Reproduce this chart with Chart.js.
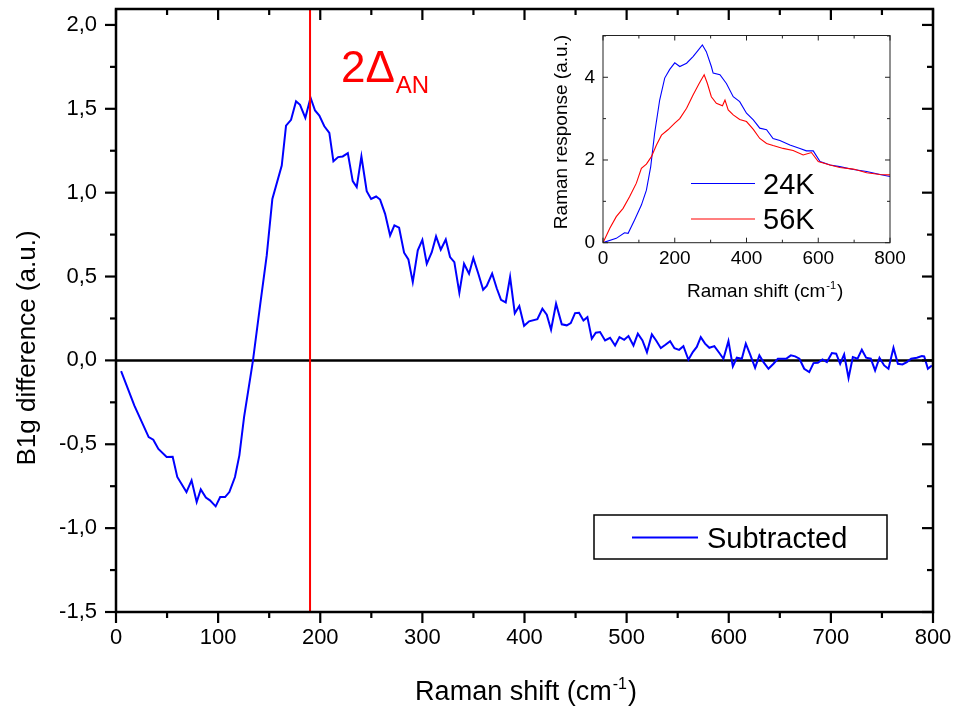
<!DOCTYPE html>
<html>
<head>
<meta charset="utf-8">
<script src="https://cdn.jsdelivr.net/npm/chart.js@4.4.0/dist/chart.umd.min.js"></script>
<style>
  body { margin: 0; background: #fff; }
  #wrap { position: relative; width: 954px; height: 711px; }
  #main { position: absolute; left: 0; top: 0; }
  #inset { position: absolute; left: 540px; top: 20px; }
</style>
</head>
<body>
<div id="wrap">
  <canvas id="main" width="954" height="711"></canvas>
  <canvas id="inset" width="380" height="290"></canvas>
</div>
<script>
const FONT = '"Liberation Sans", Arial, sans-serif';

// main panel: subtracted B1g spectrum
const shiftX = [5, 18, 32, 36.5, 41.5, 49.6, 55.5, 60, 69, 74, 79, 83, 88, 92, 97.6, 102, 106.8, 111, 116.5, 120.8,
  125.4, 134, 141, 147.6, 153.1, 162.3, 166.5, 171.4, 176.3, 180.2, 185.4, 190.5, 194.9, 199.1, 204, 208.9, 212.9,
  217.5, 222, 227, 231.8, 235.7, 240.3, 245.5, 249.8, 254.7, 258.6, 263.5, 268.4, 272.6, 277.2, 282.1, 286.3, 290.6,
  295.5, 300, 304.3, 309.2, 313.4, 318, 322.9, 327.1, 331.3, 336.2, 340.8, 345.7, 349.9, 354.8, 359.5, 363, 368.3,
  372.8, 377, 381.6, 385.9, 390.5, 394.9, 399.6, 404.5, 412.6, 417.5, 421.8, 426, 430.9, 436.5, 441.4, 445.3, 449.5,
  453.4, 457.7, 461.6, 465.9, 469.8, 474, 478.9, 483.8, 488.7, 493, 497.6, 501.8, 506.7, 511, 515.5, 519.9, 524.7,
  528.9, 533.5, 538, 542.6, 546.8, 551.4, 555.6, 560.5, 564.8, 568.7, 572.6, 576.8, 581, 585.9, 590.8, 594.8, 599.7,
  604, 607.9, 612.8, 616.7, 620.9, 625.8, 630, 634, 638.9, 643.8, 648.1, 652, 656.2, 660.8, 665, 669.2, 673.9, 678.8,
  683, 687.3, 691.8, 696.1, 701, 705.2, 709.1, 713, 717.3, 721.5, 726.1, 730.3, 734.5, 739.1, 743.3, 747.6, 752.2,
  756.4, 761.3, 765.6, 770.1, 774.4, 778.6, 784.2, 789.1, 791.4, 795, 798.9];
const subtracted = [-0.064, -0.27, -0.457, -0.473, -0.528, -0.576, -0.575, -0.695, -0.785, -0.715, -0.844, -0.769,
  -0.818, -0.834, -0.870, -0.815, -0.815, -0.785, -0.695, -0.566, -0.338, -0.006, 0.324, 0.626, 0.963, 1.162, 1.40,
  1.434, 1.545, 1.524, 1.446, 1.566, 1.49, 1.46, 1.396, 1.357, 1.187, 1.212, 1.216, 1.236, 1.069, 1.033, 1.216, 1.009,
  0.963, 0.977, 0.959, 0.874, 0.745, 0.805, 0.791, 0.642, 0.602, 0.467, 0.656, 0.719, 0.576, 0.645, 0.739, 0.66,
  0.721, 0.616, 0.586, 0.403, 0.576, 0.517, 0.61, 0.517, 0.421, 0.444, 0.518, 0.43, 0.361, 0.346, 0.497, 0.281,
  0.324, 0.206, 0.233, 0.246, 0.308, 0.272, 0.183, 0.338, 0.215, 0.209, 0.222, 0.282, 0.284, 0.238, 0.258, 0.129,
  0.165, 0.169, 0.119, 0.135, 0.089, 0.139, 0.123, 0.145, 0.089, 0.159, 0.119, 0.049, 0.155, 0.119, 0.073, 0.093,
  0.115, 0.073, 0.063, 0.085, 0.004, 0.05, 0.08, 0.139, 0.1, 0.075, 0.085, 0.044, 0.01, 0.115, -0.036, 0.016, 0.01,
  0.1, 0.036, -0.044, 0.03, -0.01, -0.05, -0.02, 0.01, 0.01, 0.01, 0.03, 0.024, 0.01, -0.05, -0.07, -0.016, -0.014,
  0.006, -0.01, 0.044, 0.04, -0.02, 0.036, -0.105, 0.02, 0.01, 0.064, 0.016, 0.01, -0.06, 0.016, -0.03, -0.05, 0.075,
  -0.02, -0.024, -0.01, 0.01, 0.016, 0.026, 0.024, -0.05, -0.03];
const gapMarker = 190;
const mainXTicks = [0, 100, 200, 300, 400, 500, 600, 700, 800];
const mainYTicks = [-1.5, -1.0, -0.5, 0.0, 0.5, 1.0, 1.5, 2.0];

// inset: raw spectra
const x24 = [0, 37, 60, 70, 88, 107, 121, 133, 144, 158, 172, 186, 200, 214, 233, 251, 265, 277, 288, 302, 307, 326,
  344, 363, 381, 400, 419, 437, 456, 474, 493, 521, 549, 567, 586, 605, 633, 660, 698, 735, 772, 800];
const y24 = [0, 0.105, 0.24, 0.226, 0.55, 0.91, 1.27, 1.84, 2.65, 3.45, 3.98, 4.19, 4.35, 4.26, 4.34, 4.5, 4.65, 4.78,
  4.62, 4.26, 4.1, 4.06, 3.85, 3.53, 3.41, 3.13, 2.97, 2.77, 2.73, 2.52, 2.47, 2.36, 2.28, 2.22, 2.22, 1.96, 1.88,
  1.84, 1.77, 1.72, 1.65, 1.6];
const x56 = [0, 19, 37, 56, 74, 93, 107, 121, 135, 149, 163, 181, 200, 214, 233, 251, 268, 282, 291, 302, 316, 333,
  340, 349, 363, 381, 400, 419, 437, 456, 474, 502, 530, 558, 581, 600, 633, 660, 698, 735, 772, 800];
const y56 = [0, 0.35, 0.63, 0.83, 1.11, 1.44, 1.8, 1.9, 2.08, 2.36, 2.6, 2.73, 2.89, 3.0, 3.25, 3.57, 3.85, 4.06,
  3.85, 3.53, 3.37, 3.31, 3.45, 3.21, 3.09, 2.98, 2.93, 2.74, 2.52, 2.4, 2.35, 2.28, 2.23, 2.12, 2.18, 1.96, 1.88,
  1.82, 1.78, 1.69, 1.65, 1.64];
const insetXTicks = [0, 200, 400, 600, 800];
const insetYTicks = [0, 2, 4];

const pts = (xs, ys) => xs.map((x, i) => ({ x: x, y: ys[i] }));

// keep the label overflow from shrinking the plot area
const fixX = h => s => { s.height = h; s.paddingLeft = 0; s.paddingRight = 0; };
const fixY = w => s => { s.width = w; s.paddingTop = 0; s.paddingBottom = 0; };

// frame with ticks on all four sides
function framePlugin(o) {
  return {
    id: 'frame',
    afterDraw(chart) {
      const { ctx, chartArea: a, scales: { x, y } } = chart;
      ctx.save();
      ctx.strokeStyle = o.color;
      ctx.lineWidth = o.width;
      ctx.strokeRect(a.left, a.top, a.right - a.left, a.bottom - a.top);
      ctx.lineWidth = o.tickWidth;
      const seg = (x1, y1, x2, y2) => { ctx.beginPath(); ctx.moveTo(x1, y1); ctx.lineTo(x2, y2); ctx.stroke(); };
      const db = o.outside ? 1 : -1;
      for (let v = x.min; v <= x.max + 1e-9; v += o.xMinor) {
        const p = x.getPixelForValue(v);
        const len = Math.abs(v / o.xMajor - Math.round(v / o.xMajor)) < 1e-6 ? o.major : o.minor;
        seg(p, a.bottom, p, a.bottom + db * len);
        seg(p, a.top, p, a.top + len);
      }
      for (let v = o.yStart; v <= o.yEnd + 1e-9; v += o.yMinor) {
        const p = y.getPixelForValue(v);
        const len = Math.abs(v / o.yMajor - Math.round(v / o.yMajor)) < 1e-6 ? o.major : o.minor;
        seg(a.left, p, a.left - db * len, p);
        seg(a.right, p, a.right - len, p);
      }
      ctx.restore();
    }
  };
}

function shiftTitle(ctx, cx, base, size, supSize, center) {
  const a = 'Raman shift (cm', s = '-1', b = ')';
  ctx.font = size + 'px ' + FONT;
  const wa = ctx.measureText(a).width, wb = ctx.measureText(b).width;
  ctx.font = supSize + 'px ' + FONT;
  const ws = ctx.measureText(s).width;
  let x0 = center ? cx - (wa + ws + wb) / 2 : cx;
  ctx.textAlign = 'left';
  ctx.textBaseline = 'alphabetic';
  ctx.font = size + 'px ' + FONT;
  ctx.fillText(a, x0, base);
  ctx.font = supSize + 'px ' + FONT;
  ctx.fillText(s, x0 + wa + 1, base - size * 0.42);
  ctx.font = size + 'px ' + FONT;
  ctx.fillText(b, x0 + wa + ws + 2, base);
}

const mainText = {
  id: 'mainText',
  afterDraw(chart) {
    const ctx = chart.ctx;
    ctx.save();
    ctx.fillStyle = '#000';
    shiftTitle(ctx, 525, 700, 27, 16, true);
    ctx.save();
    ctx.translate(28, 348);
    ctx.rotate(-Math.PI / 2);
    ctx.font = '26px ' + FONT;
    ctx.textAlign = 'center';
    ctx.textBaseline = 'middle';
    ctx.fillText('B1g difference (a.u.)', 0, 0);
    ctx.restore();
    // gap label
    ctx.fillStyle = '#ff0000';
    ctx.textAlign = 'left';
    ctx.textBaseline = 'alphabetic';
    ctx.font = '44px ' + FONT;
    ctx.fillText('2Δ', 341, 82);
    const w = ctx.measureText('2Δ').width;
    ctx.font = '24px ' + FONT;
    ctx.fillText('AN', 341 + w + 1, 93);
    // legend
    ctx.strokeStyle = '#000';
    ctx.lineWidth = 1.5;
    ctx.strokeRect(594, 515, 293, 44);
    ctx.strokeStyle = '#0000ff';
    ctx.lineWidth = 2;
    ctx.beginPath(); ctx.moveTo(632, 537.5); ctx.lineTo(698, 537.5); ctx.stroke();
    ctx.fillStyle = '#000';
    ctx.font = '29px ' + FONT;
    ctx.fillText('Subtracted', 707, 548);
    ctx.restore();
  }
};

const insetText = {
  id: 'insetText',
  afterDraw(chart) {
    const ctx = chart.ctx;
    ctx.save();
    ctx.fillStyle = '#000';
    shiftTitle(ctx, 147, 277, 19, 11, false);
    ctx.save();
    ctx.translate(22, 112);
    ctx.rotate(-Math.PI / 2);
    ctx.font = '19px ' + FONT;
    ctx.textAlign = 'center';
    ctx.textBaseline = 'middle';
    ctx.fillText('Raman response (a.u.)', 0, 0);
    ctx.restore();
    ctx.lineWidth = 1.2;
    ctx.strokeStyle = '#0000ff';
    ctx.beginPath(); ctx.moveTo(151, 163.5); ctx.lineTo(215, 163.5); ctx.stroke();
    ctx.strokeStyle = '#ff0000';
    ctx.beginPath(); ctx.moveTo(151, 199); ctx.lineTo(215, 199); ctx.stroke();
    ctx.font = '29px ' + FONT;
    ctx.textAlign = 'left';
    ctx.fillText('24K', 223, 174);
    ctx.fillText('56K', 223, 209);
    ctx.restore();
  }
};

Chart.defaults.font.family = FONT;
Chart.defaults.color = '#000';

new Chart(document.getElementById('main'), {
  type: 'line',
  data: {
    datasets: [
      { data: [{ x: gapMarker, y: -1.5 }, { x: gapMarker, y: 2.095 }], borderColor: '#ff0000', borderWidth: 2 },
      { data: pts(shiftX, subtracted), borderColor: '#0000ff', borderWidth: 2 },
      { data: [{ x: 0, y: 0 }, { x: 800, y: 0 }], borderColor: '#000', borderWidth: 2.5 }
    ]
  },
  options: {
    responsive: false,
    animation: false,
    devicePixelRatio: 1,
    layout: { padding: { top: 9, right: 21, left: 0, bottom: 0 } },
    elements: { point: { radius: 0 }, line: { tension: 0 } },
    plugins: { legend: { display: false }, tooltip: { enabled: false } },
    scales: {
      x: {
        type: 'linear', min: 0, max: 800,
        afterBuildTicks: s => { s.ticks = mainXTicks.map(v => ({ value: v })); },
        afterFit: fixX(99),
        grid: { display: false, drawTicks: false }, border: { display: false },
        ticks: { padding: 13, font: { size: 22 }, maxRotation: 0 }
      },
      y: {
        type: 'linear', min: -1.5, max: 2.095,
        afterBuildTicks: s => { s.ticks = mainYTicks.map(v => ({ value: v })); },
        afterFit: fixY(116),
        grid: { display: false, drawTicks: false }, border: { display: false },
        ticks: { padding: 19, font: { size: 22 }, callback: v => v.toFixed(1).replace('.', ',') }
      }
    }
  },
  plugins: [framePlugin({ color: '#000', width: 2.5, tickWidth: 2.2, outside: true, major: 11, minor: 6,
    xMajor: 100, xMinor: 50, yMajor: 0.5, yMinor: 0.25, yStart: -1.5, yEnd: 2.0 }), mainText]
});

new Chart(document.getElementById('inset'), {
  type: 'line',
  data: {
    datasets: [
      { data: pts(x56, y56), borderColor: '#ff0000', borderWidth: 1.1 },
      { data: pts(x24, y24), borderColor: '#0000ff', borderWidth: 1.1 }
    ]
  },
  options: {
    responsive: false,
    animation: false,
    devicePixelRatio: 1,
    layout: { padding: { top: 15.5, right: 30, left: 0, bottom: 0 } },
    elements: { point: { radius: 0 }, line: { tension: 0 } },
    plugins: { legend: { display: false }, tooltip: { enabled: false } },
    scales: {
      x: {
        type: 'linear', min: 0, max: 800,
        afterBuildTicks: s => { s.ticks = insetXTicks.map(v => ({ value: v })); },
        afterFit: fixX(67.3),
        grid: { display: false, drawTicks: false }, border: { display: false },
        ticks: { padding: 5, font: { size: 19 }, maxRotation: 0 }
      },
      y: {
        type: 'linear', min: 0, max: 5.01,
        afterBuildTicks: s => { s.ticks = insetYTicks.map(v => ({ value: v })); },
        afterFit: fixY(63),
        grid: { display: false, drawTicks: false }, border: { display: false },
        ticks: { padding: 8, font: { size: 19 } }
      }
    }
  },
  plugins: [framePlugin({ color: '#222', width: 1, tickWidth: 1, outside: false, major: 5, minor: 3,
    xMajor: 200, xMinor: 100, yMajor: 2, yMinor: 1, yStart: 0, yEnd: 5 }), insetText]
});
</script>
</body>
</html>
